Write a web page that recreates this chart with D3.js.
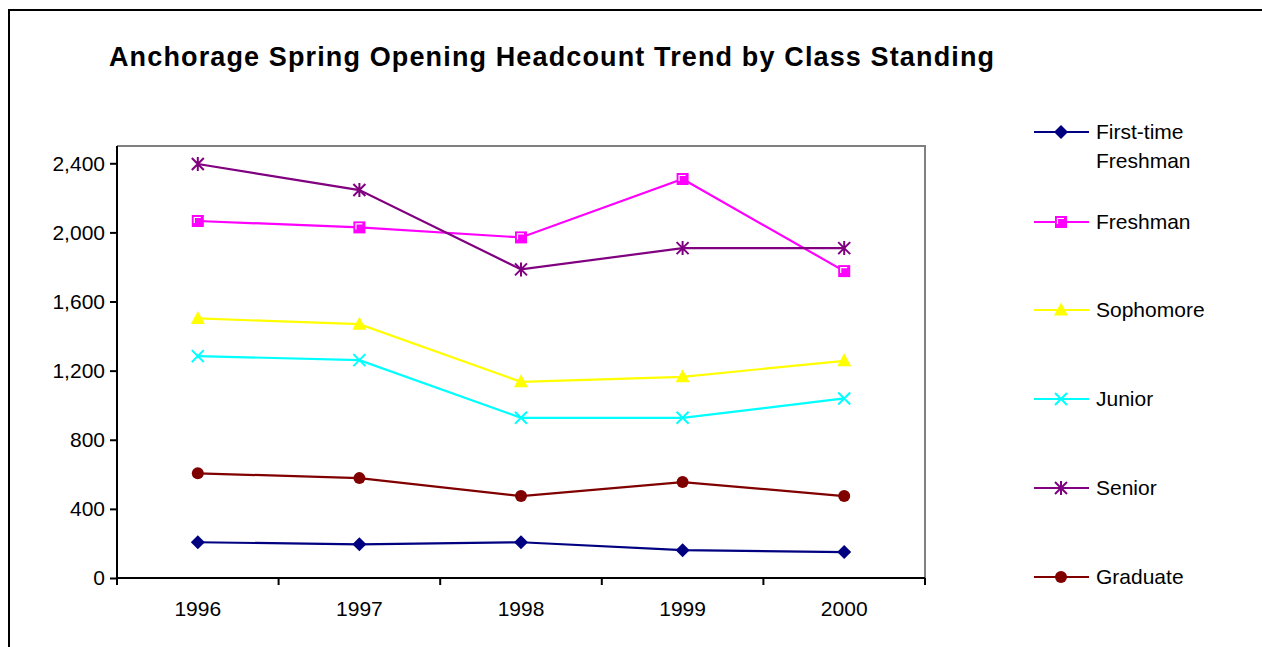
<!DOCTYPE html>
<html>
<head>
<meta charset="utf-8">
<script src="https://cdn.jsdelivr.net/npm/d3@7"></script>
<style>
  body { margin: 0; background: #fff; }
  text { font-family: "Liberation Sans", Arial, sans-serif; fill: #000; }
</style>
</head>
<body>
<div id="chart"></div>
<script>
// data
var years = ["1996", "1997", "1998", "1999", "2000"];
var seriesNames = ["First-time Freshman", "Freshman", "Sophomore", "Junior", "Senior", "Graduate"];
var firstTime = [207, 195, 207, 161, 150];
var freshman = [2066, 2029, 1971, 2309, 1776];
var sophomore = [1502, 1469, 1135, 1164, 1257];
var junior = [1284, 1261, 927, 927, 1039];
var senior = [2396, 2245, 1786, 1909, 1909];
var graduate = [606, 578, 474, 555, 474];
var yTicks = [0, 400, 800, 1200, 1600, 2000, 2400];

var colors = ["#000080", "#ff00ff", "#ffff00", "#00ffff", "#800080", "#800000"];
var shapes = ["diamond", "square", "triangle", "x", "star", "circle"];
var values = [firstTime, freshman, sophomore, junior, senior, graduate];

var series = seriesNames.map(function (name, i) {
    return { name: name, color: colors[i], shape: shapes[i], values: values[i] };
});

var width = 1262, height = 647;
var plot = { left: 117, top: 146, right: 925, bottom: 578 };

var svg = d3.select("#chart").append("svg")
    .attr("width", width)
    .attr("height", height);

// outer frame, runs off the right and bottom edges
svg.append("rect")
    .attr("x", 9).attr("y", 10)
    .attr("width", 2000).attr("height", 1000)
    .attr("fill", "#fff")
    .attr("stroke", "#000")
    .attr("stroke-width", 2);

svg.append("text")
    .attr("x", 109)
    .attr("y", 66)
    .attr("font-size", "27px")
    .attr("font-weight", "bold")
    .attr("textLength", 885)
    .attr("lengthAdjust", "spacing")
    .text("Anchorage Spring Opening Headcount Trend by Class Standing");

var x = d3.scaleBand().domain(years).range([plot.left, plot.right]);
var y = d3.scaleLinear().domain([0, 2500]).range([plot.bottom, plot.top]);

// gray top and right border of the plot area
svg.append("path")
    .attr("d", "M" + plot.left + "," + plot.top + "H" + plot.right + "V" + plot.bottom)
    .attr("fill", "none")
    .attr("stroke", "#808080")
    .attr("stroke-width", 2);

// y axis
var yAxis = svg.append("g")
    .attr("transform", "translate(" + plot.left + ",0)")
    .call(d3.axisLeft(y).tickValues(yTicks).tickFormat(d3.format(",")).tickSize(7).tickPadding(5));

// x axis: ticks on the band edges, labels in the middle
var xAxis = svg.append("g")
    .attr("transform", "translate(0," + plot.bottom + ")")
    .call(d3.axisBottom(x).tickSize(0).tickPadding(23));

var edges = d3.range(years.length + 1).map(function (i) { return plot.left + i * x.step(); });
xAxis.selectAll(".edge")
    .data(edges)
    .enter().append("line")
    .attr("class", "edge")
    .attr("x1", function (d) { return d; })
    .attr("x2", function (d) { return d; })
    .attr("y1", 0)
    .attr("y2", 7)
    .attr("stroke", "#000")
    .attr("stroke-width", 2);

[yAxis, xAxis].forEach(function (g) {
    g.selectAll(".domain").attr("stroke", "#000").attr("stroke-width", 2);
    g.selectAll(".tick line").attr("stroke", "#000").attr("stroke-width", 2);
    g.selectAll(".tick text")
        .attr("font-size", "21px")
        .attr("font-family", "Liberation Sans, Arial, sans-serif")
        .attr("fill", "#000");
});
yAxis.select(".domain").attr("d", "M0," + plot.top + "V" + plot.bottom);
xAxis.select(".domain").attr("d", "M" + plot.left + ",0H" + plot.right);

// draw a marker of a given shape at 0,0 inside g
function marker(g, shape, color) {
    if (shape === "diamond") {
        g.append("path").attr("d", "M0,-7L7,0L0,7L-7,0Z").attr("fill", color);
    } else if (shape === "square") {
        g.append("rect").attr("x", -6).attr("y", -6).attr("width", 12).attr("height", 12)
            .attr("fill", color);
        g.append("path").attr("d", "M-3.5,2V-3.5H3").attr("fill", "none")
            .attr("stroke", "#fff").attr("stroke-width", 1.2);
    } else if (shape === "triangle") {
        g.append("path").attr("d", "M0,-7.5L7,5.5L-7,5.5Z").attr("fill", color);
    } else if (shape === "x") {
        g.append("path").attr("d", "M-6,-6L6,6M-6,6L6,-6").attr("stroke", color)
            .attr("stroke-width", 2);
    } else if (shape === "star") {
        g.append("path").attr("d", "M-6,-6L6,6M-6,6L6,-6M0,-7V7").attr("stroke", color)
            .attr("stroke-width", 2);
    } else {
        g.append("circle").attr("r", 6).attr("fill", color);
    }
}

var line = d3.line()
    .x(function (d, i) { return x(years[i]) + x.bandwidth() / 2; })
    .y(function (d) { return y(d); });

var drawOrder = [5, 0, 3, 2, 1, 4];
drawOrder.forEach(function (k) {
    var s = series[k];
    var g = svg.append("g").attr("class", "series");
    g.append("path")
        .attr("d", line(s.values))
        .attr("fill", "none")
        .attr("stroke", s.color)
        .attr("stroke-width", 2.2);
    s.values.forEach(function (v, i) {
        var m = g.append("g")
            .attr("transform", "translate(" + (x(years[i]) + x.bandwidth() / 2) + "," + y(v) + ")");
        marker(m, s.shape, s.color);
    });
});

// legend
var legendY = [132, 222, 310, 399, 488, 577];
var legend = svg.selectAll(".legend")
    .data(series)
    .enter().append("g")
    .attr("class", "legend")
    .attr("transform", function (d, i) { return "translate(1034," + legendY[i] + ")"; });

legend.append("line")
    .attr("x1", 0).attr("x2", 55)
    .attr("stroke", function (d) { return d.color; })
    .attr("stroke-width", 2.2);

legend.each(function (d) {
    var m = d3.select(this).append("g").attr("transform", "translate(27,0)");
    marker(m, d.shape, d.color);
});

legend.append("text")
    .attr("x", 62)
    .attr("font-size", "21px")
    .each(function (d) {
        var t = d3.select(this);
        var words = d.name === "First-time Freshman" ? ["First-time", "Freshman"] : [d.name];
        words.forEach(function (w, j) {
            t.append("tspan").attr("x", 62).attr("y", j * 29).attr("dy", "0.35em").text(w);
        });
    });
</script>
</body>
</html>
